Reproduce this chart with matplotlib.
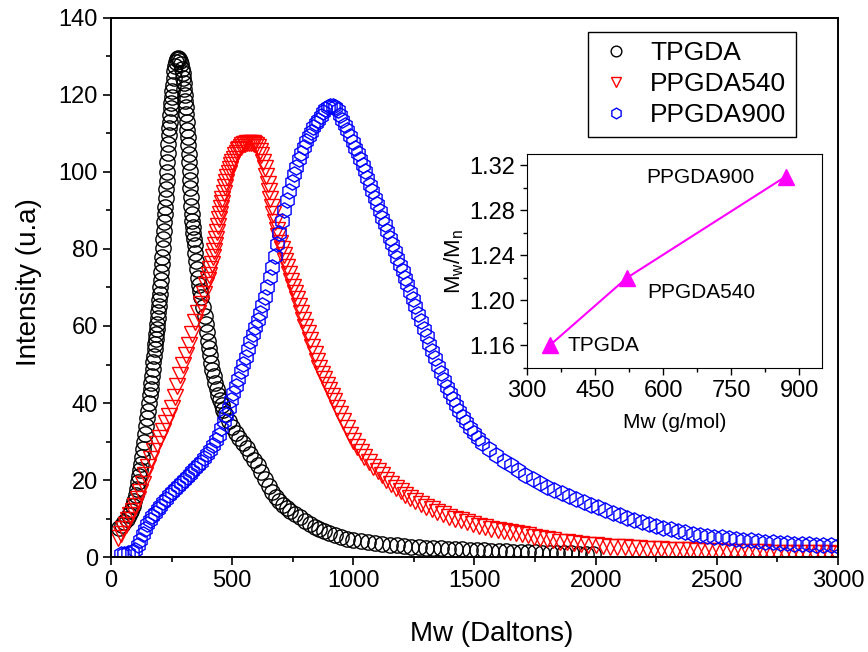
import matplotlib
matplotlib.use("Agg")
import matplotlib.pyplot as plt
from matplotlib.ticker import MultipleLocator

plt.rcParams['font.family'] = ['Liberation Sans', 'DejaVu Sans']
plt.rcParams['mathtext.fontset'] = 'custom'
plt.rcParams['mathtext.rm'] = 'Liberation Sans'
plt.rcParams['mathtext.it'] = 'Liberation Sans'

# GPC traces (Mw in Daltons, intensity in a.u.)
mw_tpgda = [35, 45, 55, 65, 75, 83, 90, 96, 102, 107,
            112, 116, 120, 124, 128, 132, 136, 140, 144, 148,
            152, 156, 160, 163, 166, 169, 172, 175, 178, 181,
            183, 185, 187, 189, 191, 193, 195, 197, 199, 201,
            203, 205, 207, 209, 211, 213, 215, 217, 219, 221,
            223, 225, 227, 229, 231, 233, 235, 237, 239, 241,
            243, 245, 247, 249, 251, 253, 255, 258, 261, 264,
            268, 272, 276, 280, 284, 288, 292, 295, 298, 300,
            302, 304, 306, 308, 310, 312, 314, 316, 318, 320,
            322, 324, 326, 328, 330, 332, 334, 336, 338, 340,
            342, 345, 348, 351, 355, 359, 363, 367, 372, 380,
            388, 392, 396, 400, 404, 408, 413, 418, 424, 430,
            436, 442, 449, 456, 463, 470, 485, 500, 515, 530,
            545, 560, 575, 590, 605, 620, 635, 650, 665, 680,
            695, 710, 725, 740, 760, 780, 800, 820, 840, 860,
            880, 900, 925, 950, 975, 1000, 1030, 1060, 1090, 1120,
            1150, 1180, 1210, 1240, 1270, 1300, 1330, 1360, 1390, 1420,
            1450, 1480, 1510, 1540, 1570, 1600, 1630, 1660, 1690, 1720,
            1750, 1780, 1810, 1840, 1870, 1900, 1930, 1960, 1990]
int_tpgda = [7.5, 8.2, 9.0, 9.8, 10.8, 12.0, 13.2, 14.5, 16.0, 17.6,
             19.5, 21.0, 22.5, 24.2, 26.0, 28.0, 30.0, 32.0, 34.0, 36.0,
             38.0, 40.0, 42.0, 43.6, 45.2, 47.0, 48.8, 50.6, 52.3, 54.0,
             55.3, 56.6, 58.0, 59.3, 60.6, 62.0, 63.6, 65.2, 66.8, 68.4,
             70.0, 72.0, 74.0, 76.0, 78.0, 80.2, 82.5, 84.8, 87.0, 89.0,
             91.0, 93.2, 95.5, 97.7, 100.0, 102.5, 105.0, 107.3, 109.5, 111.3,
             113.0, 114.8, 116.5, 118.0, 119.5, 121.0, 122.5, 124.5, 126.2, 127.5,
             128.7, 129.4, 129.6, 129.4, 128.9, 128.0, 126.8, 125.7, 124.5, 123.0,
             121.5, 120.0, 118.5, 116.8, 115.0, 113.0, 111.0, 109.0, 107.0, 104.8,
             102.5, 100.2, 98.0, 95.8, 93.5, 91.2, 89.0, 87.4, 85.8, 84.2,
             82.6, 81.0, 79.0, 77.0, 74.7, 72.5, 70.6, 69.2, 67.5, 65.0,
             62.5, 60.6, 58.5, 56.2, 54.2, 52.4, 50.5, 48.6, 46.9, 45.2,
             43.7, 42.2, 40.8, 39.5, 38.3, 37.2, 35.3, 33.8, 32.3, 30.8,
             29.5, 28.2, 26.8, 25.3, 23.8, 22.0, 20.2, 18.5, 17.0, 15.7,
             14.6, 13.6, 12.7, 12.0, 11.2, 10.4, 9.4, 8.5, 7.8, 7.2,
             6.7, 6.2, 5.7, 5.2, 4.8, 4.5, 4.2, 3.9, 3.6, 3.4,
             3.2, 3.0, 2.85, 2.7, 2.55, 2.45, 2.35, 2.25, 2.15, 2.05,
             1.95, 1.88, 1.8, 1.72, 1.65, 1.55, 1.48, 1.4, 1.33, 1.26,
             1.2, 1.14, 1.08, 1.03, 0.98, 0.93, 0.88, 0.84, 0.8]

mw_540 = [30, 40, 50, 60, 70, 80, 90, 100, 110, 120,
          130, 142, 154, 166, 178, 190, 202, 214, 226, 238,
          250, 262, 274, 286, 298, 310, 322, 334, 346, 358,
          370, 382, 394, 400, 405, 410, 415, 420, 424, 428,
          432, 436, 440, 444, 448, 452, 456, 460, 465, 470,
          475, 480, 485, 490, 495, 500, 506, 512, 518, 524,
          530, 536, 542, 548, 554, 560, 568, 576, 584, 592,
          600, 606, 614, 621, 628, 634, 640, 646, 652, 658,
          664, 670, 677, 684, 691, 698, 705, 712, 719, 726,
          734, 742, 750, 758, 766, 775, 784, 793, 802, 811,
          820, 830, 840, 850, 860, 870, 880, 890, 900, 910,
          920, 932, 945, 958, 972, 986, 1000, 1014, 1030, 1046,
          1064, 1082, 1100, 1118, 1136, 1155, 1175, 1195, 1215, 1235,
          1255, 1278, 1301, 1324, 1347, 1370, 1395, 1420, 1445, 1470,
          1495, 1520, 1545, 1570, 1595, 1620, 1645, 1670, 1695, 1720,
          1745, 1770, 1798, 1826, 1854, 1882, 1910, 1940, 1970, 2000,
          2030, 2060, 2090, 2120, 2150, 2180, 2210, 2240, 2270, 2300,
          2330, 2360, 2390, 2420, 2450, 2480, 2510, 2540, 2570, 2600,
          2630, 2660, 2690, 2720, 2750, 2780, 2810, 2840, 2870, 2900,
          2930, 2960, 2990]
int_540 = [4.9, 6.0, 7.2, 8.4, 9.6, 10.8, 12.0, 13.2, 15.0, 17.0,
           19.0, 21.3, 23.5, 25.5, 27.5, 29.3, 31.0, 32.8, 34.7, 36.7,
           38.8, 41.5, 44.3, 47.2, 50.0, 52.5, 55.0, 58.0, 61.0, 63.4,
           65.8, 68.2, 70.6, 72.0, 73.3, 74.7, 76.2, 77.9, 79.4, 81.0,
           82.7, 84.4, 86.1, 87.7, 89.2, 90.6, 91.9, 93.1, 94.5, 96.0,
           97.3, 98.6, 99.7, 100.8, 101.7, 102.6, 103.5, 104.3, 105.0, 105.6,
           106.1, 106.6, 106.9, 107.2, 107.4, 107.5, 107.6, 107.6, 107.5, 107.3,
           107.0, 106.5, 105.5, 104.3, 102.7, 101.0, 99.0, 97.0, 95.0, 93.0,
           91.0, 89.0, 87.0, 85.0, 83.3, 81.6, 80.0, 78.4, 76.8, 75.2,
           73.5, 71.8, 70.2, 68.6, 67.0, 65.2, 63.4, 61.6, 59.8, 58.1,
           56.4, 54.5, 52.7, 50.9, 49.2, 47.6, 46.2, 44.8, 43.3, 41.8,
           40.4, 38.8, 37.1, 35.4, 33.6, 31.8, 30.2, 28.7, 27.3, 26.0,
           24.7, 23.5, 22.3, 21.2, 20.1, 19.0, 18.0, 17.1, 16.2, 15.4,
           14.6, 13.8, 13.1, 12.4, 11.7, 11.1, 10.5, 10.0, 9.5, 9.1,
           8.6, 8.1, 7.8, 7.4, 7.1, 6.8, 6.5, 6.2, 5.9, 5.6,
           5.3, 5.0, 4.6, 4.3, 4.0, 3.8, 3.6, 3.4, 3.2, 3.0,
           2.85, 2.7, 2.6, 2.5, 2.4, 2.3, 2.2, 2.1, 2.0, 1.92,
           1.84, 1.77, 1.7, 1.64, 1.58, 1.52, 1.47, 1.42, 1.37, 1.32,
           1.28, 1.24, 1.2, 1.16, 1.12, 1.09, 1.06, 1.03, 1.0, 0.97,
           0.94, 0.92, 0.9]

mw_900 = [40, 55, 70, 85, 100, 110, 120, 130, 140, 150,
          160, 170, 181, 192, 204, 216, 228, 240, 252, 264,
          276, 288, 300, 312, 324, 336, 348, 360, 372, 384,
          396, 408, 420, 432, 444, 455, 465, 475, 485, 495,
          505, 515, 525, 535, 545, 555, 565, 575, 585, 595,
          605, 615, 625, 635, 645, 655, 665, 675, 685, 695,
          705, 715, 725, 735, 745, 755, 765, 775, 785, 795,
          805, 815, 825, 835, 845, 855, 865, 875, 885, 895,
          905, 915, 925, 935, 945, 955, 965, 975, 986, 997,
          1008, 1018, 1028, 1038, 1048, 1058, 1069, 1079, 1089, 1099,
          1110, 1120, 1130, 1140, 1151, 1161, 1171, 1182, 1193, 1203,
          1213, 1223, 1234, 1245, 1256, 1267, 1278, 1290, 1302, 1314,
          1326, 1338, 1350, 1362, 1374, 1386, 1398, 1411, 1424, 1438,
          1452, 1466, 1481, 1497, 1513, 1530, 1560, 1590, 1620, 1650,
          1680, 1710, 1740, 1770, 1800, 1830, 1860, 1890, 1920, 1950,
          1980, 2010, 2040, 2073, 2100, 2130, 2160, 2190, 2220, 2250,
          2280, 2310, 2340, 2370, 2400, 2430, 2460, 2490, 2520, 2550,
          2580, 2610, 2640, 2670, 2700, 2730, 2760, 2790, 2820, 2850,
          2880, 2910, 2940, 2970, 3000]
int_900 = [0.8, 0.9, 1.0, 1.2, 1.8, 3.0, 4.5, 6.0, 7.3, 8.5,
           9.6, 10.6, 11.5, 12.4, 13.3, 14.2, 15.1, 16.0, 16.8, 17.6,
           18.4, 19.2, 20.0, 20.8, 21.6, 22.4, 23.2, 24.0, 24.8, 25.7,
           26.7, 27.8, 29.0, 30.3, 31.8, 33.5, 35.2, 37.0, 38.8, 40.7,
           42.6, 44.5, 46.3, 48.2, 50.1, 52.0, 54.0, 56.0, 57.9, 59.8,
           61.6, 63.5, 65.5, 67.6, 70.0, 72.6, 75.3, 78.2, 81.2, 84.2,
           87.2, 90.0, 92.6, 95.0, 97.3, 99.4, 101.4, 103.3, 105.0, 106.6,
           108.0, 109.3, 110.5, 111.6, 112.6, 113.6, 114.6, 115.5, 116.3, 116.9,
           117.2, 117.2, 116.8, 116.0, 114.9, 113.6, 112.2, 110.8, 109.3, 107.8,
           106.3, 104.9, 103.5, 101.9, 100.2, 98.5, 96.7, 95.0, 93.3, 91.6,
           89.8, 88.1, 86.4, 84.7, 82.9, 81.2, 79.5, 77.7, 75.9, 74.2,
           72.5, 70.8, 68.9, 67.0, 65.1, 63.2, 61.3, 59.3, 57.3, 55.4,
           53.5, 51.6, 49.7, 47.8, 46.0, 44.2, 42.6, 41.0, 39.4, 37.9,
           36.4, 35.0, 33.6, 32.2, 30.9, 29.7, 28.0, 26.4, 25.0, 23.8,
           22.6, 21.4, 20.3, 19.3, 18.3, 17.5, 16.6, 15.8, 15.1, 14.4,
           13.6, 12.9, 12.1, 11.3, 10.8, 10.2, 9.6, 9.1, 8.6, 8.1,
           7.6, 7.2, 6.8, 6.4, 6.1, 5.8, 5.5, 5.3, 5.1, 4.9,
           4.7, 4.5, 4.3, 4.1, 4.0, 3.8, 3.7, 3.6, 3.5, 3.4,
           3.3, 3.2, 3.1, 3.0, 2.9]

# Polydispersity inset
inset_names = ['TPGDA', 'PPGDA540', 'PPGDA900']
inset_mw = [350, 520, 870]
inset_pdi = [1.16, 1.22, 1.31]
inset_text_pos = [(390, 1.16), (565, 1.207), (562, 1.309)]

fig = plt.figure(figsize=(8.68, 6.52), dpi=100)
ax = fig.add_axes([0.1279, 0.1457, 0.8375, 0.8267])

mk = dict(linestyle='none', mfc='none', mew=1.0)
ax.plot(mw_tpgda, int_tpgda, marker='o', ms=11, mec='black', label='TPGDA', **mk)
ax.plot(mw_540, int_540, marker='v', ms=11, mec='red', label='PPGDA540', **mk)
ax.plot(mw_900, int_900, marker='h', ms=11, mec='blue', label='PPGDA900', **mk)

ax.set_xlim(0, 3000)
ax.set_ylim(0, 140)
ax.xaxis.set_major_locator(MultipleLocator(500))
ax.xaxis.set_minor_locator(MultipleLocator(250))
ax.yaxis.set_major_locator(MultipleLocator(20))
ax.yaxis.set_minor_locator(MultipleLocator(10))
ax.tick_params(which='both', direction='out', top=False, right=False, width=1.2, labelsize=17)
ax.tick_params(which='major', length=6)
ax.tick_params(which='minor', length=3.5)
for s in ax.spines.values():
    s.set_linewidth(1.4)
ax.set_xlabel('Mw (Daltons)', fontsize=20)
ax.xaxis.set_label_coords(0.524, -0.118)
ax.set_ylabel('Intensity (u.a)', fontsize=20)
ax.yaxis.set_label_coords(-0.095, 0.51)

leg = ax.legend(loc='upper right', bbox_to_anchor=(0.942, 0.974), borderaxespad=0,
                fontsize=19, markerscale=0.7, fancybox=False, edgecolor='black',
                framealpha=1, labelspacing=0.27, handlelength=1.4, handletextpad=0.6,
                borderpad=0.35)
leg.get_frame().set_linewidth(1.0)

# inset: Mw/Mn vs Mw
ins = fig.add_axes([0.6071, 0.4356, 0.3399, 0.3282])
ins.plot(inset_mw, inset_pdi, color='magenta', lw=1.5, marker='^', ms=11)
for name, (tx, ty) in zip(inset_names, inset_text_pos):
    ins.text(tx, ty, name, fontsize=15, va='center', ha='left')
ins.set_xlim(300, 950)
ins.set_ylim(1.14, 1.33)
ins.xaxis.set_major_locator(MultipleLocator(150))
ins.xaxis.set_minor_locator(MultipleLocator(75))
ins.yaxis.set_major_locator(MultipleLocator(0.04))
ins.yaxis.set_minor_locator(MultipleLocator(0.02))
ins.yaxis.set_major_formatter(plt.FormatStrFormatter('%.2f'))
ins.tick_params(which='both', direction='out', top=False, right=False, width=1.0, labelsize=17)
ins.tick_params(which='major', length=5)
ins.tick_params(which='minor', length=3)
ins.set_xlabel('Mw (g/mol)', fontsize=15, labelpad=8)
ins.set_ylabel(r'M$_\mathregular{w}$/M$_\mathregular{n}$', fontsize=16, labelpad=2)

fig.savefig('out.png', dpi=100)
